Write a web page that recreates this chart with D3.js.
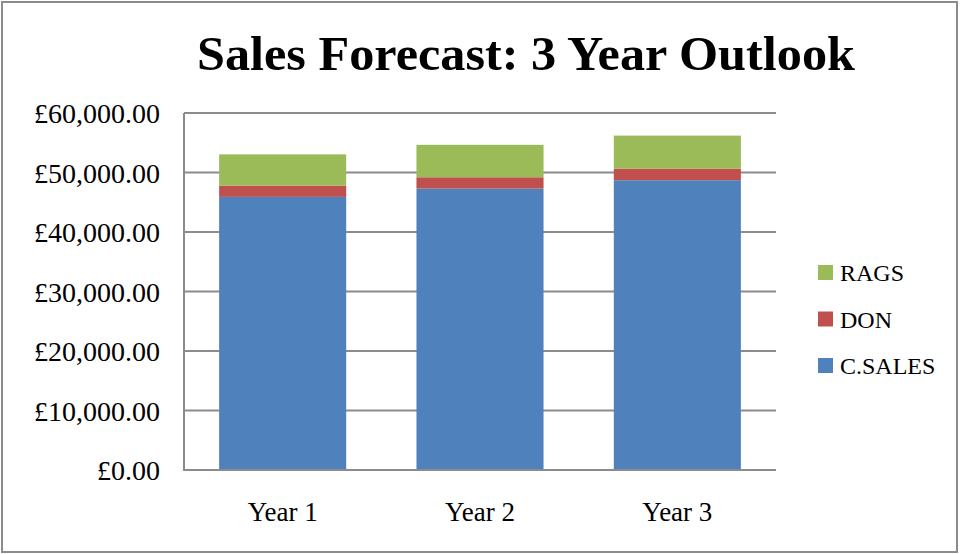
<!DOCTYPE html>
<html>
<head>
<meta charset="utf-8">
<script src="https://cdn.jsdelivr.net/npm/d3@7"></script>
<style>
  html, body { margin: 0; padding: 0; background: #fff; }
  svg { display: block; }
</style>
</head>
<body>
<svg id="chart" width="960" height="554"></svg>
<script>
// Forecast figures (GBP) per year, stacked bottom to top
const years = ["Year 1", "Year 2", "Year 3"];
const cSales = [45900, 47300, 48700];
const don = [1900, 1900, 1950];
const rags = [5250, 5450, 5550];
const seriesNames = ["C.SALES", "DON", "RAGS"];
const seriesColors = ["#4F81BD", "#C0504D", "#9BBB59"];
const yTicks = [0, 10000, 20000, 30000, 40000, 50000, 60000];

const rows = years.map((y, i) => ({ year: y, "C.SALES": cSales[i], "DON": don[i], "RAGS": rags[i] }));
const stacked = d3.stack().keys(seriesNames)(rows);

const svg = d3.select("#chart");
const font = "'Liberation Serif', 'DejaVu Serif', serif";
const plot = { left: 184, right: 776, top: 113, bottom: 470 };

const x = d3.scaleBand()
  .domain(years)
  .range([plot.left, plot.right])
  .paddingInner(0.356)
  .paddingOuter(0.178);

const y = d3.scaleLinear()
  .domain([0, 60000])
  .range([plot.bottom, plot.top]);

// outer frame
svg.append("rect")
  .attr("x", 2).attr("y", 2).attr("width", 955).attr("height", 550)
  .attr("fill", "#fff").attr("stroke", "#8c8c8c").attr("stroke-width", 2);

// title
svg.append("text")
  .attr("x", 526).attr("y", 70)
  .attr("text-anchor", "middle")
  .attr("font-family", font)
  .attr("font-weight", "bold")
  .attr("font-size", 48)
  .attr("textLength", 658)
  .attr("lengthAdjust", "spacingAndGlyphs")
  .attr("fill", "#000")
  .text("Sales Forecast: 3 Year Outlook");

// horizontal gridlines
svg.append("g")
  .selectAll("line")
  .data(yTicks.filter(t => t > 0))
  .join("line")
  .attr("x1", plot.left).attr("x2", plot.right)
  .attr("y1", d => y(d)).attr("y2", d => y(d))
  .attr("stroke", "#8c8c8c").attr("stroke-width", 2);

// y axis labels
const fmt = d3.format(",.2f");
const yAxis = d3.axisLeft(y).tickValues(yTicks).tickSize(0).tickPadding(24)
  .tickFormat(d => "£" + fmt(d));
const gy = svg.append("g").attr("transform", `translate(${plot.left},0)`).call(yAxis);
gy.select(".domain").remove();
gy.selectAll("text")
  .attr("font-family", font).attr("font-size", 28).attr("fill", "#000")
  .attr("dy", "0.34em");

// stacked bars
svg.append("g")
  .selectAll("g")
  .data(stacked)
  .join("g")
  .attr("fill", (d, i) => seriesColors[i])
  .selectAll("rect")
  .data(d => d)
  .join("rect")
  .attr("x", d => x(d.data.year))
  .attr("width", x.bandwidth())
  .attr("y", d => y(d[1]))
  .attr("height", d => y(d[0]) - y(d[1]));

// axis lines
svg.append("line")
  .attr("x1", plot.left).attr("x2", plot.left)
  .attr("y1", plot.top).attr("y2", plot.bottom)
  .attr("stroke", "#8c8c8c").attr("stroke-width", 2);
svg.append("line")
  .attr("x1", plot.left - 1).attr("x2", plot.right)
  .attr("y1", plot.bottom).attr("y2", plot.bottom)
  .attr("stroke", "#8c8c8c").attr("stroke-width", 2);

// x axis labels
const xAxis = d3.axisBottom(x).tickSize(0).tickPadding(32);
const gx = svg.append("g").attr("transform", `translate(0,${plot.bottom})`).call(xAxis);
gx.select(".domain").remove();
gx.selectAll("text")
  .attr("font-family", font).attr("font-size", 27).attr("fill", "#000");

// legend (top to bottom: RAGS, DON, C.SALES)
const legendItems = seriesNames.map((n, i) => ({ name: n, color: seriesColors[i] })).reverse();
const lg = svg.append("g")
  .selectAll("g")
  .data(legendItems)
  .join("g")
  .attr("transform", (d, i) => `translate(818,${265 + i * 46.5})`);
lg.append("rect")
  .attr("width", 15).attr("height", 15)
  .attr("fill", d => d.color);
lg.append("text")
  .attr("x", 22).attr("y", 16)
  .attr("font-family", font).attr("font-size", 24).attr("fill", "#000")
  .text(d => d.name);
</script>
</body>
</html>
